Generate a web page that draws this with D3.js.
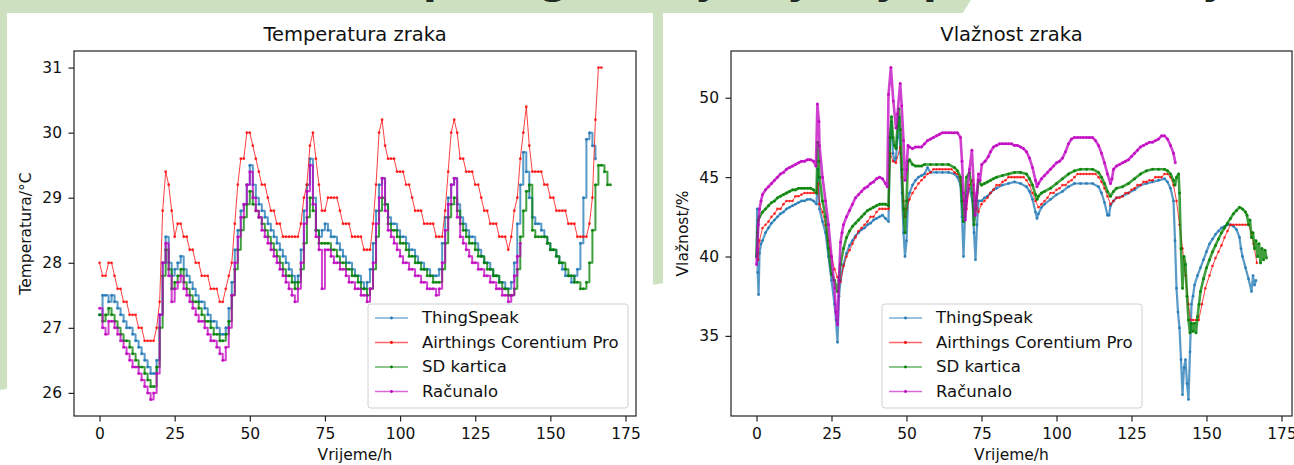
<!DOCTYPE html>
<html>
<head>
<meta charset="utf-8">
<script src="https://cdn.jsdelivr.net/npm/d3@7"></script>
<style>
  html, body { margin: 0; padding: 0; background: #fff; }
  svg { display: block; font-family: "DejaVu Sans", sans-serif; }
</style>
</head>
<body>
<div id="container"></div>
<script>
// ---- data ----
const seriesNames = ["ThingSpeak", "Airthings Corentium Pro", "SD kartica", "Računalo"];
const seriesColors = ["#1f77b4", "#ff0000", "#008000", "#bf00bf"];
const xTicks = [0, 25, 50, 75, 100, 125, 150, 175];
const tempTicks = [26, 27, 28, 29, 30, 31];
const humTicks = [35, 40, 45, 50];

// temperature, one value per hour starting at 0 h
const tempThingSpeak = [
  27.2, 27.5, 27.5, 27.4, 27.5, 27.4, 27.3, 27.2, 27.1, 27.0,
  27.0, 26.9, 26.8, 26.7, 26.6, 26.5, 26.4, 26.3, 26.3, 26.5,
  27.2, 28.0, 28.4, 28.0, 27.8, 27.9, 28.0, 28.1, 27.9, 27.8,
  27.7, 27.6, 27.5, 27.4, 27.4, 27.3, 27.2, 27.1, 27.1, 27.0,
  26.9, 26.9, 27.0, 27.3, 27.7, 28.2, 28.5, 28.8, 28.9, 29.2,
  29.5, 29.2, 29.0, 28.9, 28.8, 28.7, 28.6, 28.5, 28.4, 28.3,
  28.2, 28.1, 28.0, 27.9, 27.8, 27.7, 27.8, 28.2, 28.8, 29.2,
  29.6, 29.0, 28.5, 28.4, 28.5, 28.6, 28.5, 28.4, 28.4, 28.3,
  28.2, 28.1, 28.0, 28.0, 27.9, 27.8, 27.8, 27.7, 27.6, 27.7,
  27.9, 28.3, 28.8, 29.2, 29.3, 28.9, 28.7, 28.6, 28.6, 28.5,
  28.4, 28.4, 28.3, 28.2, 28.2, 28.1, 28.0, 28.0, 27.9, 27.9,
  27.8, 27.8, 27.8, 27.9, 28.3, 28.7, 29.0, 29.2, 29.3, 28.9,
  28.7, 28.6, 28.5, 28.4, 28.4, 28.3, 28.2, 28.1, 28.0, 28.0,
  27.9, 27.8, 27.8, 27.7, 27.7, 27.6, 27.6, 27.7, 28.0, 28.6,
  29.2, 29.7, 29.4, 29.0, 28.7, 28.6, 28.6, 28.5, 28.4, 28.3,
  28.2, 28.2, 28.1, 28.0, 27.9, 27.8, 27.8, 27.7, 27.8, 27.9,
  28.3, 29.0, 29.9, 30.0, 29.8, 29.6
];
const tempAirthings = [
  28.0, 27.8, 27.8, 28.0, 28.0, 27.8, 27.6, 27.6, 27.4, 27.4,
  27.2, 27.2, 27.2, 27.0, 27.0, 26.8, 26.8, 26.8, 26.8, 27.0,
  27.4, 28.8, 29.4, 29.2, 28.8, 28.4, 28.6, 28.6, 28.4, 28.4,
  28.2, 28.2, 28.0, 28.0, 27.8, 27.8, 27.8, 27.6, 27.6, 27.6,
  27.4, 27.4, 27.6, 27.8, 28.0, 28.6, 29.2, 29.6, 29.6, 30.0,
  30.0, 29.8, 29.6, 29.4, 29.2, 29.2, 29.0, 28.8, 28.8, 28.6,
  28.6, 28.4, 28.4, 28.4, 28.4, 28.4, 28.4, 28.6, 29.0, 29.2,
  29.8, 30.0, 29.6, 29.2, 28.8, 28.8, 29.0, 29.0, 29.0, 29.0,
  28.8, 28.6, 28.6, 28.6, 28.4, 28.4, 28.4, 28.4, 28.2, 28.2,
  28.2, 28.6, 29.2, 30.0, 30.2, 29.8, 29.6, 29.6, 29.6, 29.4,
  29.4, 29.4, 29.2, 29.2, 29.0, 28.8, 28.8, 28.8, 28.6, 28.6,
  28.6, 28.6, 28.4, 28.4, 28.4, 28.8, 29.4, 30.0, 30.2, 30.0,
  29.6, 29.6, 29.4, 29.4, 29.4, 29.2, 29.2, 29.0, 28.8, 28.8,
  28.6, 28.6, 28.6, 28.4, 28.4, 28.4, 28.2, 28.4, 28.8, 29.0,
  29.6, 30.0, 30.4, 29.8, 29.4, 29.4, 29.4, 29.4, 29.2, 29.2,
  29.0, 29.0, 28.8, 28.8, 28.8, 28.8, 28.6, 28.6, 28.6, 28.4,
  28.4, 28.4, 28.4, 28.6, 29.0, 30.2, 31.0, 31.0
];
const tempSD = [
  27.2, 27.1, 27.2, 27.3, 27.2, 27.1, 27.0, 26.9, 26.8, 26.8,
  26.7, 26.6, 26.5, 26.4, 26.4, 26.3, 26.2, 26.1, 26.1, 26.4,
  27.0, 27.8, 28.2, 27.9, 27.6, 27.7, 27.8, 27.9, 27.7, 27.6,
  27.5, 27.4, 27.4, 27.3, 27.2, 27.1, 27.1, 27.0, 26.9, 26.9,
  26.8, 26.8, 26.9, 27.1, 27.5, 27.9, 28.2, 28.5, 28.7, 28.9,
  29.1, 28.9, 28.8, 28.7, 28.6, 28.5, 28.4, 28.3, 28.2, 28.1,
  28.0, 27.9, 27.8, 27.8, 27.7, 27.6, 27.7, 27.9, 28.3, 28.7,
  29.0, 28.8, 28.5, 28.3, 28.3, 28.3, 28.3, 28.2, 28.2, 28.1,
  28.0, 28.0, 27.9, 27.9, 27.8, 27.8, 27.7, 27.6, 27.6, 27.5,
  27.6, 27.9, 28.4, 28.8, 29.0, 28.9, 28.6, 28.5, 28.5, 28.4,
  28.3, 28.3, 28.2, 28.1, 28.1, 28.0, 28.0, 27.9, 27.9, 27.8,
  27.8, 27.7, 27.7, 27.7, 27.9, 28.3, 28.7, 28.9, 29.0, 28.8,
  28.6, 28.5, 28.4, 28.3, 28.3, 28.2, 28.1, 28.1, 28.0, 27.9,
  27.9, 27.8, 27.8, 27.7, 27.6, 27.6, 27.5, 27.5, 27.6, 27.9,
  28.4, 28.8, 29.1, 29.2, 28.5, 28.4, 28.4, 28.4, 28.4, 28.3,
  28.2, 28.2, 28.1, 28.0, 28.0, 27.9, 27.8, 27.8, 27.7, 27.7,
  27.6, 27.6, 27.7, 28.0, 28.5, 29.2, 29.5, 29.5, 29.4, 29.2,
  29.2
];
const tempRacunalo = [
  27.3, 27.0, 26.9, 27.1, 27.1, 27.0, 26.9, 26.8, 26.7, 26.6,
  26.5, 26.4, 26.4, 26.3, 26.2, 26.1, 26.0, 25.9, 26.0, 26.3,
  27.2, 28.0, 28.3, 27.8, 27.4, 27.6, 27.7, 27.8, 27.6, 27.5,
  27.4, 27.3, 27.2, 27.1, 27.1, 27.0, 26.9, 26.8, 26.8, 26.7,
  26.6, 26.5, 26.7, 27.0, 27.5, 28.0, 28.4, 28.7, 28.9, 29.2,
  29.4, 29.0, 28.8, 28.7, 28.5, 28.4, 28.3, 28.2, 28.1, 28.0,
  27.9, 27.8, 27.7, 27.6, 27.5, 27.4, 27.6, 28.0, 28.6, 29.1,
  29.5, 28.9, 28.4, 28.2, 27.6, 28.2, 28.2, 28.1, 28.0, 28.0,
  27.9, 27.9, 27.8, 27.7, 27.7, 27.6, 27.6, 27.5, 27.5, 27.4,
  27.6, 28.0, 28.6, 29.0, 29.3, 28.8, 28.5, 28.4, 28.3, 28.2,
  28.1, 28.0, 28.0, 27.9, 27.9, 27.8, 27.8, 27.7, 27.7, 27.6,
  27.6, 27.6, 27.5, 27.6, 28.0, 28.5, 28.9, 29.2, 29.3, 28.7,
  28.4, 28.3, 28.2, 28.1, 28.0, 28.0, 27.9, 27.9, 27.8, 27.8,
  27.7, 27.7, 27.6, 27.6, 27.5, 27.5, 27.4, 27.5, 27.8, 28.1,
  28.3
];

// humidity, [hour, %] pairs
const humThingSpeak = [
  [0,40.0],[0.2,43.0],[0.4,39.0],[0.7,37.6],[1,40.2],[1.5,40.8],[2,41.0],[3,41.5],[4,41.8],[5,42.1],
  [6,42.3],[7,42.5],[8,42.7],[9,42.8],[10,43.0],[11,43.1],[12,43.2],[13,43.3],[14,43.4],[15,43.5],
  [16,43.5],[17,43.6],[18,43.6],[19,43.5],[20,43.3],[20.5,45.5],[21,43.0],[22,42.2],[23,41.5],[24,40.0],
  [25,38.5],[26,37.0],[26.5,36.0],[27,34.6],[27.5,37.5],[28,38.5],[29,39.5],[30,40.2],[31,40.7],[32,41.0],
  [33,41.3],[34,41.5],[35,41.7],[36,41.8],[37,42.0],[38,42.1],[39,42.3],[40,42.4],[41,42.5],[42,42.6],
  [43,42.4],[44,42.2],[44.5,47.5],[45,48.5],[45.5,46.5],[46,46.0],[46.5,46.2],[47,47.5],[47.5,48.8],[48,46.5],
  [48.5,44.0],[49,41.5],[49.5,40.0],[50,41.0],[50.5,43.5],[51,44.0],[52,44.5],[53,44.8],[54,45.0],[55,45.1],
  [56,45.2],[57,45.6],[58,45.3],[60,45.3],[62,45.3],[64,45.3],[66,45.2],[67,45.0],[68,44.5],[68.5,42.5],
  [69,40.0],[69.5,42.5],[70,43.8],[71,44.3],[72,43.5],[72.5,41.5],[73,39.8],[73.5,42.0],[74,43.5],[75,43.5],
  [76,43.7],[77,43.8],[78,44.0],[79,44.2],[80,44.3],[82,44.5],[84,44.6],[86,44.7],[88,44.6],[90,44.4],
  [91,44.1],[92,43.6],[93,42.8],[93.5,42.4],[94,42.7],[95,43.1],[96,43.3],[98,43.6],[100,43.9],[102,44.1],
  [104,44.4],[106,44.6],[108,44.6],[110,44.6],[112,44.6],[114,44.4],[115,44.0],[116,43.4],[117,42.6],[117.5,42.6],
  [118,43.2],[119,43.5],[120,43.7],[122,43.8],[124,44.0],[126,44.2],[128,44.5],[130,44.6],[132,44.7],[134,44.8],
  [136,44.9],[137,44.7],[138,44.3],[139,43.5],[139.5,41.0],[140,38.0],[140.5,36.5],[141,35.5],[141.5,33.5],[142,31.3],
  [142.5,33.0],[143,33.5],[143.5,32.0],[144,31.0],[144.5,34.0],[145,37.0],[145.5,37.5],[146,38.2],[147,38.8],[148,39.3],
  [149,39.8],[150,40.3],[151,40.8],[152,41.1],[153,41.4],[154,41.6],[155,41.8],[156,41.9],[157,42.0],[158,42.0],
  [159,41.9],[160,41.7],[161,41.2],[161.5,40.5],[162,40.0],[163,39.3],[164,38.6],[165,37.8],[165.5,38.8],[166,38.2],
  [166.5,38.5]
];
const humAirthings = [
  [0.5,39.8],[1,41.0],[2,41.8],[3,42.0],[4,42.2],[5,42.5],[6,42.7],[7,43.0],[8,43.0],[9,43.3],
  [10,43.5],[11,43.5],[12,43.5],[13,43.8],[14,43.8],[15,43.9],[16,44.0],[17,44.0],[18,44.0],[19,44.0],
  [20,44.0],[20.5,44.6],[21,43.3],[22,42.8],[23,42.0],[24,41.0],[25,40.0],[26,39.2],[27,38.7],[28,38.4],
  [29,39.4],[30,40.0],[31,40.4],[32,40.8],[33,41.2],[34,41.6],[35,41.8],[36,42.0],[37,42.2],[38,42.5],
  [39,42.5],[40,42.8],[41,43.0],[42,43.0],[43,43.0],[44,43.0],[44.6,46.5],[45.5,46.0],[46.5,45.9],[47.9,46.9],
  [48.5,45.0],[49,43.5],[49.5,42.5],[50,43.0],[51,43.6],[52,44.0],[53,44.3],[54,44.6],[55,44.8],[56,45.0],
  [57,45.2],[58,45.3],[59,45.5],[60,45.5],[61,45.5],[62,45.5],[63,45.5],[64,45.5],[65,45.5],[66,45.3],
  [67,45.2],[68,44.8],[69,43.5],[70,43.0],[71,44.5],[72,44.8],[73,43.5],[74,42.8],[75,43.3],[76,43.5],
  [77,43.7],[78,44.0],[79,44.2],[80,44.5],[81,44.5],[82,44.7],[83,44.8],[84,45.0],[85,45.0],[86,45.0],
  [87,45.0],[88,45.0],[89,45.0],[90,44.8],[91,44.5],[92,44.0],[93,43.5],[94,43.1],[95,43.3],[96,43.5],
  [97,43.7],[98,44.0],[99,44.0],[100,44.2],[101,44.3],[102,44.5],[103,44.5],[104,44.7],[105,44.8],[106,45.0],
  [107,45.2],[108,45.2],[109,45.2],[110,45.2],[111,45.2],[112,45.2],[113,45.2],[114,45.0],[115,44.7],[116,44.3],
  [117,43.8],[118,43.3],[119,43.5],[120,43.7],[121,43.7],[122,43.8],[123,44.0],[124,44.0],[125,44.2],[126,44.3],
  [127,44.5],[128,44.5],[129,44.7],[130,44.7],[131,44.8],[132,44.8],[133,45.0],[134,45.0],[135,45.0],[136,45.2],
  [137,45.2],[138,45.0],[139,44.5],[140,43.5],[141,42.0],[142,40.5],[143,38.8],[144,37.0],[144.6,36.0],[145.5,36.0],
  [146.5,36.0],[147.4,36.0],[148.5,37.0],[149.6,38.0],[151,38.8],[152,39.4],[153,39.9],[154,40.3],[155,40.7],[156,41.2],
  [157,41.6],[158,42.0],[159,42.0],[160,42.0],[161,42.0],[162,42.0],[163,42.0],[164,42.0],[165,41.5],[165.7,40.8],
  [166.8,39.6]
];
const humSD = [
  [0,40.0],[0.3,41.5],[0.6,42.3],[1,42.5],[2,42.8],[3,43.0],[4,43.2],[5,43.4],[6,43.5],[7,43.7],
  [8,43.8],[9,43.9],[10,44.0],[11,44.1],[12,44.2],[13,44.2],[14,44.3],[15,44.3],[16,44.3],[17,44.3],
  [18,44.3],[19,44.2],[20,44.0],[20.4,47.2],[20.8,46.0],[21,45.0],[22,43.5],[23,42.5],[24,40.5],[25,38.9],
  [26,38.5],[27,37.8],[27.5,38.5],[28,39.5],[29,40.5],[30,41.2],[31,41.6],[32,41.9],[33,42.1],[34,42.3],
  [35,42.5],[36,42.7],[37,42.9],[38,43.0],[39,43.1],[40,43.2],[41,43.3],[42,43.3],[43,43.3],[44,43.2],
  [44.5,47.5],[45,48.8],[45.5,47.5],[46,47.0],[46.5,46.8],[47,48.2],[47.5,49.3],[48,48.0],[48.5,45.5],[49,43.0],
  [49.5,41.5],[50,43.5],[50.5,46.0],[51,46.1],[52,45.8],[53,45.7],[54,45.7],[55,45.7],[56,45.8],[58,45.8],
  [60,45.8],[62,45.8],[64,45.8],[66,45.6],[67,45.4],[68,45.0],[68.5,43.5],[69,42.2],[69.5,43.0],[70,45.0],
  [71,45.3],[72,44.0],[72.5,42.0],[73,43.0],[74,44.8],[75,44.5],[76,44.6],[77,44.7],[78,44.8],[79,44.9],
  [80,45.0],[82,45.1],[84,45.2],[86,45.3],[88,45.3],[90,45.2],[91,44.9],[92,44.5],[93,43.9],[93.5,43.6],
  [94,43.8],[95,44.0],[96,44.1],[98,44.3],[100,44.6],[102,44.9],[104,45.2],[106,45.4],[108,45.5],[110,45.5],
  [112,45.5],[114,45.3],[115,45.0],[116,44.6],[117,44.1],[118,43.8],[119,44.1],[120,44.3],[122,44.4],[124,44.6],
  [126,44.9],[128,45.2],[130,45.4],[132,45.5],[134,45.5],[136,45.5],[137,45.4],[138,45.2],[139,44.8],[139.5,44.5],
  [140,45.0],[140.7,45.2],[141,44.0],[141.5,40.5],[142,38.0],[142.5,40.0],[143,39.5],[143.5,37.5],[144,36.0],[144.5,35.2],
  [145,35.8],[145.5,35.3],[146,35.8],[146.5,35.2],[147,36.2],[147.5,37.0],[148,37.8],[149,38.6],[150,39.3],[151,39.8],
  [152,40.3],[153,40.7],[154,41.1],[155,41.5],[156,41.8],[157,42.1],[158,42.4],[159,42.7],[160,42.9],[161,43.1],
  [162,43.0],[163,42.8],[163.5,42.6],[164,42.0],[164.5,42.3],[165,41.2],[165.5,41.5],[166,40.5],[166.5,41.0],[167,40.0],
  [167.5,40.8],[168,39.6],[168.5,40.5],[169,39.8],[169.5,40.4],[170,39.9]
];
const humRacunalo = [
  [0,39.5],[0.3,40.5],[0.6,42.0],[1,43.0],[1.5,43.5],[2,43.9],[3,44.2],[4,44.4],[5,44.6],[6,44.8],
  [7,45.0],[8,45.2],[9,45.3],[10,45.5],[11,45.6],[12,45.7],[13,45.8],[14,45.9],[15,46.0],[16,46.0],
  [17,46.1],[18,46.1],[19,46.0],[19.8,45.7],[20.3,49.6],[20.8,48.5],[21,47.0],[22,45.0],[23,43.5],[24,42.0],
  [25,40.0],[26,38.0],[26.5,36.5],[27,35.7],[27.5,38.5],[28,40.9],[28.5,41.5],[29,42.0],[30,42.5],[31,42.9],
  [32,43.3],[33,43.7],[34,43.9],[35,44.1],[36,44.3],[37,44.4],[38,44.6],[39,44.7],[40,44.9],[41,45.0],
  [42,44.9],[43,44.6],[43.6,44.4],[44,50.2],[44.8,51.9],[45.6,49.8],[46.5,48.1],[47,49.0],[47.9,50.9],[48.4,49.5],
  [49,47.3],[49.5,44.8],[50,45.5],[50.5,47.0],[51,46.9],[52,46.8],[53,46.9],[54,46.9],[55,46.9],[56,47.1],
  [57,47.3],[58,47.4],[59,47.5],[60,47.6],[61,47.7],[62,47.8],[63,47.8],[64,47.8],[65,47.8],[66,47.8],
  [67,47.8],[68,47.5],[68.5,46.0],[69,44.0],[69.6,42.3],[70,43.5],[71,45.5],[71.8,46.7],[72.4,44.5],[72.9,42.6],
  [73.5,44.0],[74,45.2],[74.5,44.8],[75.1,45.8],[76.2,46.0],[77.3,46.3],[78,46.6],[79,46.9],[80,47.0],[81,47.1],
  [82,47.1],[83,47.1],[84,47.1],[85,47.1],[86,47.0],[87,47.0],[88,46.9],[89,46.8],[90,46.6],[91,46.2],
  [92,45.6],[93,44.8],[93.5,44.4],[94,44.6],[95,44.9],[96,45.1],[97,45.3],[98,45.5],[99,45.7],[100,45.9],
  [101,46.0],[102,46.2],[103,46.6],[104,47.1],[105,47.4],[106,47.5],[107,47.5],[108,47.5],[109,47.5],[110,47.5],
  [111,47.5],[112,47.5],[113,47.3],[114,47.0],[115,46.5],[116,45.9],[117,45.2],[118,44.6],[118.5,44.9],[119,45.5],
  [120,45.7],[121,45.8],[122,45.9],[123,46.0],[124,46.1],[125,46.3],[126,46.5],[127,46.7],[128,46.9],[129,47.0],
  [130,47.1],[131,47.2],[132,47.2],[133,47.3],[134,47.4],[135,47.6],[136,47.6],[137,47.4],[138,47.0],[139,46.5],
  [139.6,45.9]
];

// ---- drawing ----
const W = 1294, H = 465;
const slideGreen = "#cde0bf";

const svg = d3.select("#container").append("svg")
  .attr("width", W)
  .attr("height", H);

// slide background behind the two figures
svg.append("rect").attr("width", W).attr("height", H).attr("fill", "#fff");
svg.append("polygon").attr("points", "0,0 971,0 962,14 0,14").attr("fill", slideGreen);
svg.append("polygon").attr("points", "0,0 664,0 664,283 0,390").attr("fill", slideGreen);
svg.append("rect").attr("x", 7).attr("y", 13).attr("width", 646).attr("height", H - 13).attr("fill", "#fff");
svg.append("rect").attr("x", 663).attr("y", 13).attr("width", W - 663).attr("height", H - 13).attr("fill", "#fff");

// slide heading sits above the crop, only its descenders peek in
const headingGlyphs = [["p", 423], ["g", 540], ["j", 700], ["j", 792], ["j", 880], ["p", 923], ["j", 1207]];
svg.append("g").selectAll("text")
  .data(headingGlyphs)
  .join("text")
  .attr("x", d => d[1])
  .attr("y", -7)
  .style("font-size", "40px")
  .style("font-weight", "bold")
  .attr("fill", "#1e2a22")
  .text(d => d[0]);

const hourly = arr => arr.map((v, i) => [i, v]);

function drawPanel(o) {
  const x = d3.scaleLinear().domain([-8.5, 178.5]).range([o.left, o.right]);
  const y = d3.scaleLinear().domain(o.yDomain).range([o.bottom, o.top]);
  const g = svg.append("g");

  const clipId = "clip-" + o.id;
  svg.append("clipPath").attr("id", clipId)
    .append("rect")
    .attr("x", o.left).attr("y", o.top)
    .attr("width", o.right - o.left).attr("height", o.bottom - o.top);

  const plot = g.append("g").attr("clip-path", `url(#${clipId})`);

  o.series.forEach((s, i) => {
    const line = d3.line()
      .x(d => x(d[0]))
      .y(d => y(d[1]))
      .curve(s.step ? d3.curveStepAfter : d3.curveLinear);
    const sg = plot.append("g");
    sg.append("path")
      .attr("d", line(s.data))
      .attr("fill", "none")
      .attr("stroke", seriesColors[i])
      .attr("stroke-opacity", 0.75)
      .attr("stroke-width", s.width)
      .attr("stroke-linejoin", "round");
    sg.selectAll("circle")
      .data(s.data)
      .join("circle")
      .attr("cx", d => x(d[0]))
      .attr("cy", d => y(d[1]))
      .attr("r", s.r)
      .attr("fill", seriesColors[i])
      .attr("fill-opacity", 0.8);
  });

  const xAxis = d3.axisBottom(x).tickValues(xTicks).tickSize(5.5).tickPadding(6.5);
  const yAxis = d3.axisLeft(y).tickValues(o.yTicks).tickFormat(d3.format("d")).tickSize(5.5).tickPadding(6.5);

  const gx = g.append("g").attr("transform", `translate(0,${o.bottom})`).call(xAxis);
  const gy = g.append("g").attr("transform", `translate(${o.left},0)`).call(yAxis);
  [gx, gy].forEach(a => {
    a.select(".domain").remove();
    a.selectAll(".tick line").attr("stroke", "#222").attr("stroke-width", 1.2);
    a.selectAll(".tick text")
      .attr("fill", "#111")
      .style("font-size", "15.5px")
      .style("font-family", "DejaVu Sans");
  });

  g.append("rect")
    .attr("x", o.left).attr("y", o.top)
    .attr("width", o.right - o.left).attr("height", o.bottom - o.top)
    .attr("fill", "none")
    .attr("stroke", "#222")
    .attr("stroke-width", 1.2);

  const cx = (o.left + o.right) / 2;
  g.append("text")
    .attr("x", cx).attr("y", 41)
    .attr("text-anchor", "middle")
    .style("font-size", "19.5px")
    .attr("fill", "#111")
    .text(o.title);
  g.append("text")
    .attr("x", cx).attr("y", 460)
    .attr("text-anchor", "middle")
    .style("font-size", "15.5px")
    .attr("fill", "#111")
    .text("Vrijeme/h");
  g.append("text")
    .attr("transform", `translate(${o.yLabelX},${(o.top + o.bottom) / 2}) rotate(-90)`)
    .attr("text-anchor", "middle")
    .style("font-size", "15.5px")
    .attr("fill", "#111")
    .text(o.yLabel);

  // legend
  const lg = g.append("g").attr("transform", `translate(${o.legendX},304)`);
  lg.append("rect")
    .attr("width", 260).attr("height", 104)
    .attr("rx", 3)
    .attr("fill", "#fff").attr("fill-opacity", 0.85)
    .attr("stroke", "#d0d0d0");
  seriesNames.forEach((name, i) => {
    const base = 19 + i * 24.5;
    lg.append("line")
      .attr("x1", 7).attr("x2", 40)
      .attr("y1", base - 5).attr("y2", base - 5)
      .attr("stroke", seriesColors[i])
      .attr("stroke-opacity", 0.6)
      .attr("stroke-width", 1.6);
    lg.append("circle")
      .attr("cx", 23.5).attr("cy", base - 5).attr("r", 1.4)
      .attr("fill", seriesColors[i]);
    lg.append("text")
      .attr("x", 54).attr("y", base)
      .style("font-size", "16.5px")
      .attr("fill", "#111")
      .text(name);
  });
}

drawPanel({
  id: "temp",
  left: 74, right: 636, top: 51, bottom: 416,
  yDomain: [25.645, 31.255],
  yTicks: tempTicks,
  title: "Temperatura zraka",
  yLabel: "Temperatura/°C",
  yLabelX: 30.5,
  legendX: 368,
  series: [
    { data: hourly(tempThingSpeak), step: true, width: 2, r: 1.5 },
    { data: hourly(tempAirthings), step: false, width: 1, r: 1.4 },
    { data: hourly(tempSD), step: true, width: 2, r: 1.5 },
    { data: hourly(tempRacunalo), step: true, width: 2, r: 1.5 }
  ]
});

drawPanel({
  id: "hum",
  left: 731, right: 1292, top: 51, bottom: 416,
  yDomain: [29.955, 52.945],
  yTicks: humTicks,
  title: "Vlažnost zraka",
  yLabel: "Vlažnost/%",
  yLabelX: 688,
  legendX: 882,
  series: [
    { data: humThingSpeak, step: false, width: 2.2, r: 1.4 },
    { data: humAirthings, step: false, width: 1, r: 1.3 },
    { data: humSD, step: false, width: 2.6, r: 1.5 },
    { data: humRacunalo, step: false, width: 2.6, r: 1.5 }
  ]
});
</script>
</body>
</html>
